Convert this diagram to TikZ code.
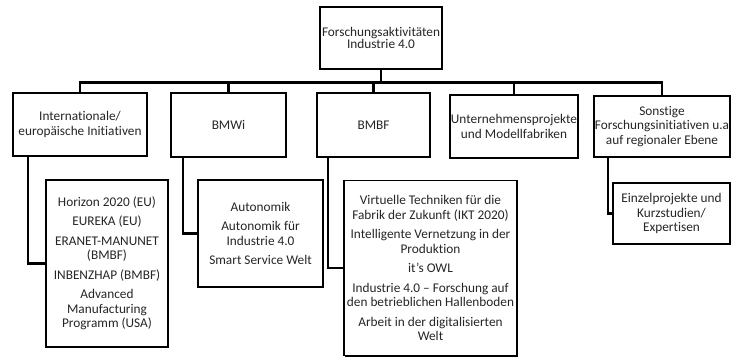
\documentclass[tikz,border=0pt]{standalone}
\usepackage{fontspec}
\setmainfont{Carlito}[Ligatures=NoCommon]
\usetikzlibrary{shadows}
\begin{document}
\begin{tikzpicture}[x=1pt,y=-1pt,
  box/.style={draw=black, line width=1.5pt, fill=white, align=center, inner sep=1pt,
    text=black!85, font=\fontsize{13.3}{14.5}\selectfont,
    drop shadow={shadow xshift=1pt, shadow yshift=-1pt, fill=black, opacity=1}},
  conn/.style={line width=2.7pt, black}]
\useasboundingbox (0,0) rectangle (731,358);

% level 0
\node[box, minimum width=122pt, minimum height=62pt, font=\fontsize{13.3}{12.5}\selectfont] (top) at (381,38)
  {Forschungsaktivitäten\\Industrie 4.0};

% level 1
\node[box, minimum width=134pt, minimum height=63pt] (int) at (80,124.5)
  {Internationale/\\europäische Initiativen};
\node[box, minimum width=115pt, minimum height=64pt] (bmwi) at (228.5,125) {BMWi};
\node[box, minimum width=113pt, minimum height=64pt] (bmbf) at (373.5,125) {BMBF};
\node[box, minimum width=128pt, minimum height=63pt] (unt) at (514,126.5)
  {Unternehmensprojekte\\und Modellfabriken};
\node[box, minimum width=136pt, minimum height=61pt] (son) at (662,126.5)
  {Sonstige\\Forschungsinitiativen u.a\\auf regionaler Ebene};

% level 2
\node[box, minimum width=122pt, minimum height=167pt] (intc) at (107,263.5)
  {Horizon 2020 (EU)\\[5pt]EUREKA (EU)\\[5pt]ERANET-MANUNET\\(BMBF)\\[5pt]INBENZHAP (BMBF)\\[5pt]Advanced\\Manufacturing\\Programm (USA)};
\node[box, minimum width=125pt, minimum height=107pt] (bmwic) at (260.5,233.5)
  {Autonomik\\[5pt]Autonomik für\\Industrie 4.0\\[5pt]Smart Service Welt};
\node[box, minimum width=173pt, minimum height=175pt] (bmbfc) at (430.5,268)
  {Virtuelle Techniken für die\\Fabrik der Zukunft (IKT 2020)\\[5pt]Intelligente Vernetzung in der\\Produktion\\[5pt]it's OWL\\[5pt]Industrie 4.0 – Forschung auf\\den betrieblichen Hallenboden\\[5pt]Arbeit in der digitalisierten\\Welt};
\node[box, minimum width=117pt, minimum height=61pt] (sonc) at (671.5,213.5)
  {Einzelprojekte und\\Kurzstudien/\\Expertisen};

% connectors level 0 -> 1
\foreach \n in {int,bmwi,bmbf,unt,son}
  \draw[conn] (top.south) -- ++(0,13) -| (\n.north);

% connectors level 1 -> 2
\draw[conn] ([xshift=-52pt]int.south) |- (intc.west);
\draw[conn] ([xshift=-45.5pt]bmwi.south) |- (bmwic.west);
\draw[conn] ([xshift=-45.5pt]bmbf.south) |- (bmbfc.west);
\draw[conn] ([xshift=-54pt]son.south) |- (sonc.west);
\end{tikzpicture}
\end{document}
